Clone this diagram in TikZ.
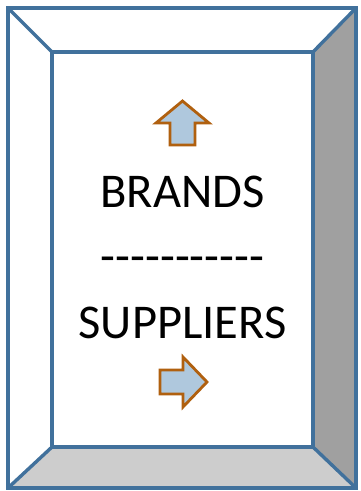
\documentclass[tikz,border=0pt]{standalone}
\usepackage{fontspec}
\setmainfont{Carlito}
\definecolor{bevline}{HTML}{41719C}
\definecolor{darkside}{HTML}{A0A0A0}
\definecolor{lightside}{HTML}{CDCDCD}
\definecolor{arrfill}{HTML}{AFC8DD}
\definecolor{arrline}{HTML}{B0600F}
\newcommand{\hy}{\mbox{-}}
\begin{document}
\begin{tikzpicture}[x=1pt,y=-1pt,
  bev/.style={draw=bevline,line width=3.4pt,line join=miter},
  arr/.style={draw=arrline,fill=arrfill,line width=2.8pt,line join=miter},
  lbl/.style={font=\fontsize{48.5}{48.5}\selectfont,anchor=base,inner sep=0pt}]
\useasboundingbox (0,0) rectangle (360,491);
\coordinate (o1) at (8,8);
\coordinate (o2) at (356,8);
\coordinate (o3) at (356,488);
\coordinate (o4) at (8,488);
\coordinate (i1) at (52,52);
\coordinate (i2) at (313,52);
\coordinate (i3) at (313,447);
\coordinate (i4) at (52,447);
% faces
\fill[white] (o1) -- (o2) -- (i2) -- (i1) -- cycle;
\fill[white] (o1) -- (i1) -- (i4) -- (o4) -- cycle;
\fill[darkside] (o2) -- (o3) -- (i3) -- (i2) -- cycle;
\fill[lightside] (o4) -- (i4) -- (i3) -- (o3) -- cycle;
\fill[white] (i1) rectangle (i3);
% edges
\draw[bev] (o1) -- (o2) -- (o3) -- (o4) -- cycle;
\draw[bev] (i1) -- (i2) -- (i3) -- (i4) -- cycle;
\draw[bev] (o1) -- (i1);
\draw[bev] (o2) -- (i2);
\draw[bev] (o3) -- (i3);
\draw[bev] (o4) -- (i4);
% arrows
\draw[arr] (182.5,101) -- (209,123) -- (195,123) -- (195,145) -- (170,145) -- (170,123) -- (156,123) -- cycle;
\draw[arr] (207,382) -- (183,357) -- (183,370) -- (160,370) -- (160,394) -- (183,394) -- (183,407) -- cycle;
% text
\node[lbl] (brands) at (182.5,207) {BRANDS};
\node[lbl] (dashes) at (182.5,272) {\hy\hy\hy\hy\hy\hy\hy\hy\hy\hy\hy};
\node[lbl] (suppliers) at (182.5,338) {SUPPLIERS};
\end{tikzpicture}
\end{document}
